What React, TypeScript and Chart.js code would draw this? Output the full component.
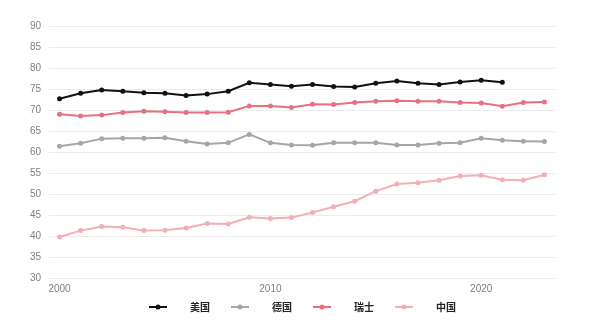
import React, { useEffect, useRef } from 'react';
import { Chart, registerables } from 'chart.js';

Chart.register(...registerables);

const years = ['2000','2001','2002','2003','2004','2005','2006','2007','2008','2009','2010','2011','2012','2013','2014','2015','2016','2017','2018','2019','2020','2021','2022','2023'];
const xTickLabels = ['2000', '2010', '2020'];
const seriesNames = ['美国', '德国', '瑞士', '中国'];

const usa = [72.8, 74.1, 74.9, 74.6, 74.2, 74.1, 73.6, 73.9, 74.6, 76.6, 76.2, 75.8, 76.2, 75.7, 75.6, 76.5, 77.0, 76.5, 76.2, 76.8, 77.2, 76.7, null, null];
const germany = [61.5, 62.2, 63.3, 63.4, 63.4, 63.5, 62.7, 62.0, 62.3, 64.3, 62.3, 61.8, 61.7, 62.3, 62.3, 62.3, 61.8, 61.8, 62.2, 62.3, 63.4, 62.9, 62.7, 62.6];
const switzerland = [69.1, 68.7, 68.9, 69.5, 69.8, 69.7, 69.5, 69.5, 69.6, 71.1, 71.1, 70.7, 71.5, 71.4, 71.9, 72.2, 72.3, 72.2, 72.2, 71.9, 71.8, 71.0, 71.9, 72.0];
const china = [39.9, 41.4, 42.4, 42.2, 41.4, 41.5, 42.0, 43.1, 43.0, 44.6, 44.3, 44.5, 45.7, 47.1, 48.4, 50.8, 52.5, 52.8, 53.4, 54.4, 54.6, 53.5, 53.4, 54.7];

const yMin = 30;
const yMax = 90;
const yStep = 5;

const colors = ['#111111', '#a6a6a6', '#e8707f', '#f2afb6'];

function legendImage(color: string): HTMLCanvasElement {
  const c = document.createElement('canvas');
  c.width = 53;
  c.height = 8;
  const ctx = c.getContext('2d')!;
  ctx.strokeStyle = color;
  ctx.lineWidth = 2;
  ctx.beginPath();
  ctx.moveTo(17, 4);
  ctx.lineTo(35, 4);
  ctx.stroke();
  ctx.fillStyle = color;
  ctx.beginPath();
  ctx.arc(26, 4, 2.5, 0, Math.PI * 2);
  ctx.fill();
  return c;
}

export default function App() {
  const ref = useRef<HTMLCanvasElement>(null);

  useEffect(() => {
    if (!ref.current) return;
    const seriesData = [usa, germany, switzerland, china];
    const images = colors.map(legendImage);
    const chart = new Chart(ref.current, {
      type: 'line',
      data: {
        labels: years,
        datasets: seriesData.map((d, i) => ({
          label: seriesNames[i],
          data: d,
          borderColor: colors[i],
          backgroundColor: colors[i],
          borderWidth: 2,
          pointRadius: 2.5,
          pointBorderWidth: 0,
          pointBackgroundColor: colors[i],
          tension: 0,
          spanGaps: false,
          yAxisID: 'y',
        })),
      },
      options: {
        animation: false,
        responsive: false,
        maintainAspectRatio: false,
        layout: { padding: { left: 0, right: 12, top: 26.5, bottom: 8 } },
        plugins: {
          tooltip: { enabled: false },
          legend: {
            position: 'bottom',
            labels: {
              usePointStyle: true,
              pointStyleWidth: 53,
              boxHeight: 8,
              padding: 4,
              color: '#222222',
              font: { family: '"Noto Sans CJK SC"', size: 10, weight: 'bold' },
              generateLabels: (ch: any) =>
                ch.data.datasets.map((ds: any, i: number) => ({
                  text: ds.label,
                  fillStyle: colors[i],
                  strokeStyle: colors[i],
                  lineWidth: 0,
                  pointStyle: images[i],
                  hidden: false,
                  datasetIndex: i,
                  fontColor: '#222222',
                })),
            },
          },
        },
        scales: {
          x: {
            type: 'category',
            offset: true,
            grid: { display: false, drawTicks: false },
            border: { display: false },
            afterFit: (s: any) => { s.height = 19.5; },
            ticks: {
              autoSkip: false,
              maxRotation: 0,
              padding: 5,
              color: '#7f7f7f',
              font: { family: '"Liberation Sans", Arial, sans-serif', size: 10 },
              callback: function (this: any, _v: any, idx: number) {
                const lab = years[idx];
                return xTickLabels.includes(lab) ? lab : '';
              },
            },
          },
          y: {
            position: 'left',
            min: yMin,
            max: yMax,
            grid: { color: '#ebebeb', lineWidth: 1, drawTicks: false },
            border: { display: false },
            afterFit: (s: any) => { s.width = 49; },
            ticks: {
              stepSize: yStep,
              padding: 8,
              color: '#7f7f7f',
              font: { family: '"Liberation Sans", Arial, sans-serif', size: 10 },
            },
          },
          yRight: {
            type: 'linear',
            position: 'right',
            display: true,
            min: yMin,
            max: yMax,
            grid: { display: false, drawTicks: false },
            border: { display: false },
            ticks: { display: false },
            afterFit: (s: any) => { s.width = 33; },
          },
        },
      },
    });
    return () => chart.destroy();
  }, []);

  return (
    <div style={{ position: 'absolute', left: 0, top: 0, width: 600, height: 330, background: '#fff' }}>
      <canvas ref={ref} width={600} height={330} style={{ width: 600, height: 330 }} />
    </div>
  );
}
